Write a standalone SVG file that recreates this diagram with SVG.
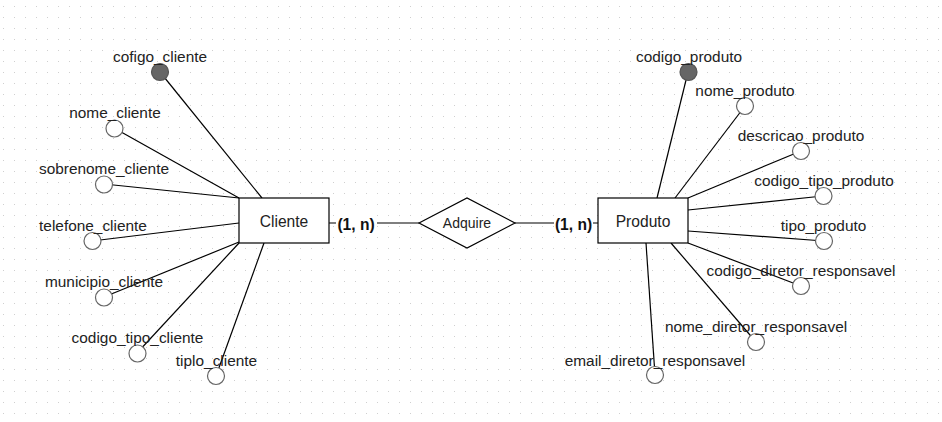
<svg xmlns="http://www.w3.org/2000/svg" width="942" height="422" viewBox="0 0 942 422">
<defs>
<pattern id="grid" x="3" y="6" width="11" height="11" patternUnits="userSpaceOnUse">
<rect x="0" y="0" width="1" height="1" fill="#cfcfcf"/>
</pattern>
<style>
.lbl{font-family:"Liberation Sans",Arial,sans-serif;font-size:15.4px;fill:#222;text-anchor:middle;dominant-baseline:central}
.ent{font-family:"Liberation Sans",Arial,sans-serif;font-size:15.6px;fill:#222;text-anchor:middle;dominant-baseline:central}
.card{font-family:"Liberation Sans",Arial,sans-serif;font-size:15.6px;font-weight:bold;fill:#111;text-anchor:middle;dominant-baseline:central}
.box{fill:#fff;stroke:#000;stroke-width:1.2}
.att{fill:#fff;stroke:#666;stroke-width:1.2}
.key{fill:#666;stroke:#555;stroke-width:1.2}
.ln{stroke:#000;stroke-width:1.2;fill:none}
</style>
</defs>
<rect width="942" height="422" fill="#fff"/>
<rect width="942" height="422" fill="url(#grid)"/>
<g id="connectors">
<line class="ln" x1="329" y1="223" x2="419" y2="223"/>
<line class="ln" x1="515" y1="223" x2="598" y2="223"/>
<line class="ln" x1="160" y1="72" x2="262" y2="198"/>
<line class="ln" x1="114" y1="128" x2="239" y2="198"/>
<line class="ln" x1="104" y1="184" x2="239" y2="198"/>
<line class="ln" x1="92" y1="241" x2="239" y2="223"/>
<line class="ln" x1="104" y1="297" x2="239" y2="242"/>
<line class="ln" x1="137" y1="353" x2="239" y2="243"/>
<line class="ln" x1="216" y1="376" x2="264" y2="243"/>
<line class="ln" x1="688" y1="72" x2="657" y2="198"/>
<line class="ln" x1="745" y1="106" x2="675" y2="198"/>
<line class="ln" x1="801" y1="151" x2="688" y2="198"/>
<line class="ln" x1="823" y1="196" x2="688" y2="210"/>
<line class="ln" x1="824" y1="241" x2="688" y2="231"/>
<line class="ln" x1="801" y1="286" x2="688" y2="243"/>
<line class="ln" x1="756" y1="342" x2="671" y2="243"/>
<line class="ln" x1="655" y1="375" x2="646" y2="243"/>
<rect x="336" y="214" width="41" height="18" fill="#fff"/>
<text class="card" x="356" y="224">(1, n)</text>
<rect x="554" y="214" width="39" height="18" fill="#fff"/>
<text class="card" x="573.5" y="224">(1, n)</text>
</g>
<g id="cliente">
<rect class="box" x="239" y="198" width="90" height="45"/>
<text class="ent" x="284" y="221">Cliente</text>
</g>
<g id="adquire">
<polygon class="box" points="419,223 467,198 515,223 467,248"/>
<text class="lbl" x="467" y="223" style="font-size:14px">Adquire</text>
</g>
<g id="produto">
<rect class="box" x="598" y="198" width="90" height="45"/>
<text class="ent" x="643" y="221">Produto</text>
</g>
<g id="attr-cofigo_cliente"><circle class="key" cx="160" cy="72" r="8.5"/><text class="lbl" x="160" y="56">cofigo_cliente</text></g>
<g id="attr-nome_cliente"><circle class="att" cx="114.5" cy="128.5" r="8.5"/><text class="lbl" x="115" y="112">nome_cliente</text></g>
<g id="attr-sobrenome_cliente"><circle class="att" cx="104" cy="184.5" r="8.5"/><text class="lbl" x="104" y="168">sobrenome_cliente</text></g>
<g id="attr-telefone_cliente"><circle class="att" cx="92.5" cy="241" r="8.5"/><text class="lbl" x="93" y="225">telefone_cliente</text></g>
<g id="attr-municipio_cliente"><circle class="att" cx="104" cy="297.5" r="8.5"/><text class="lbl" x="104" y="281">municipio_cliente</text></g>
<g id="attr-codigo_tipo_cliente"><circle class="att" cx="137.5" cy="353.5" r="8.5"/><text class="lbl" x="137.5" y="337">codigo_tipo_cliente</text></g>
<g id="attr-tiplo_cliente"><circle class="att" cx="216" cy="376" r="8.5"/><text class="lbl" x="216.5" y="360">tiplo_cliente</text></g>
<g id="attr-codigo_produto"><circle class="key" cx="688.5" cy="72" r="8.5"/><text class="lbl" x="689" y="56">codigo_produto</text></g>
<g id="attr-nome_produto"><circle class="att" cx="745" cy="106" r="8.5"/><text class="lbl" x="745" y="90">nome_produto</text></g>
<g id="attr-descricao_produto"><circle class="att" cx="801" cy="151" r="8.5"/><text class="lbl" x="801" y="135">descricao_produto</text></g>
<g id="attr-codigo_tipo_produto"><circle class="att" cx="823.5" cy="196" r="8.5"/><text class="lbl" x="824" y="180">codigo_tipo_produto</text></g>
<g id="attr-tipo_produto"><circle class="att" cx="824" cy="241" r="8.5"/><text class="lbl" x="823.5" y="225">tipo_produto</text></g>
<g id="attr-codigo_diretor_responsavel"><circle class="att" cx="801" cy="286" r="8.5"/><text class="lbl" x="801" y="270">codigo_diretor_responsavel</text></g>
<g id="attr-nome_diretor_responsavel"><circle class="att" cx="756" cy="342" r="8.5"/><text class="lbl" x="756" y="326">nome_diretor_responsavel</text></g>
<g id="attr-email_diretor_responsavel"><circle class="att" cx="655" cy="375" r="8.5"/><text class="lbl" x="655" y="360">email_diretor_responsavel</text></g>
</svg>
